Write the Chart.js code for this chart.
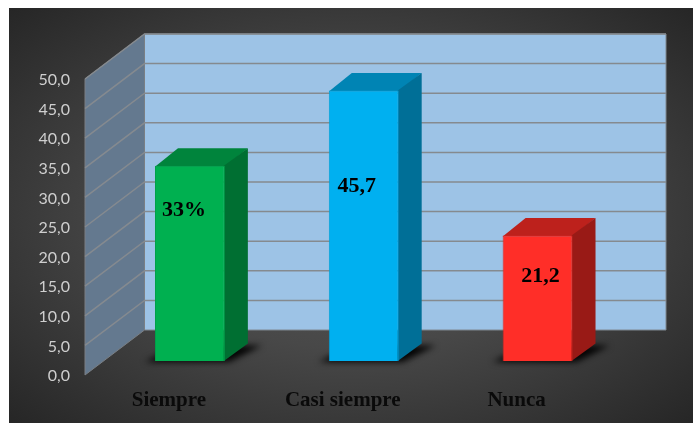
<!DOCTYPE html>
<html>
<head>
<meta charset="utf-8">
<script src="https://cdn.jsdelivr.net/npm/chart.js@4"></script>
<style>
    html, body { margin: 0; padding: 0; background: #fff; width: 693px; height: 423px; overflow: hidden; }
    #wrap {
        position: absolute; left: 9px; top: 8px; width: 684px; height: 415px;
        background: radial-gradient(ellipse at center, #575757 0%, #484848 45%, #262626 100%);
    }
</style>
</head>
<body>
<div id="wrap"><canvas id="barChart" width="684" height="415"></canvas></div>
<script>
// --- Data ---
const categories = ['Siempre', 'Casi siempre', 'Nunca'];
const seriesValues = [33, 45.7, 21.2];
const dataLabels = ['33%', '45,7', '21,2'];
const yTickLabels = ['0,0', '5,0', '10,0', '15,0', '20,0', '25,0', '30,0', '35,0', '40,0', '45,0', '50,0'];

// --- Colours ---
const frontColors = ['#00b050', '#00b0f0', '#ff2e28'];
const edgeColors = ['#00a049', '#00a0da', '#e02a24'];
const topColors = ['#00843c', '#0084b4', '#bd211c'];
const sideColors = ['#006f32', '#006f97', '#991a16'];

// --- 3D look ---
const wallDepth = { x: 59.5, y: -45 };
const barShift = { x: 18, y: -14 };
const barDepth = { x: 23, y: -17.5 };
const labelNudgeX = [-6, -7, 3];
const labelDropY = [45, 96, 41];

function poly(ctx, pts, fill, stroke) {
    ctx.beginPath();
    pts.forEach((p, i) => i ? ctx.lineTo(p[0], p[1]) : ctx.moveTo(p[0], p[1]));
    ctx.closePath();
    ctx.fillStyle = fill;
    ctx.fill();
    if (stroke) {
        ctx.strokeStyle = stroke;
        ctx.lineWidth = 1;
        ctx.stroke();
    }
}

const wallsPlugin = {
    id: 'walls',
    beforeDatasetsDraw(chart) {
        const { ctx, chartArea: a, scales: { y } } = chart;
        const dx = wallDepth.x, dy = wallDepth.y;
        ctx.save();
        // back wall and side wall
        poly(ctx, [[a.left + dx, a.top + dy], [a.right + dx, a.top + dy], [a.right + dx, a.bottom + dy], [a.left + dx, a.bottom + dy]], '#9dc3e6', '#7f8790');
        poly(ctx, [[a.left, a.top], [a.left + dx, a.top + dy], [a.left + dx, a.bottom + dy], [a.left, a.bottom]], '#64798f', '#7a7f84');
        // gridlines, bent round the corner
        ctx.strokeStyle = '#858a8f';
        ctx.lineWidth = 1.5;
        y.ticks.forEach(t => {
            if (t.value === 0) return;
            const py = y.getPixelForValue(t.value);
            ctx.beginPath();
            ctx.moveTo(a.left, py);
            ctx.lineTo(a.left + dx, py + dy);
            ctx.lineTo(a.right + dx, py + dy);
            ctx.stroke();
        });
        // soft shadow on the floor under each bar
        chart.getDatasetMeta(0).data.forEach(bar => {
            const l = bar.x - bar.width / 2 + barShift.x, r = bar.x + bar.width / 2 + barShift.x;
            const b = y.getPixelForValue(0) + barShift.y;
            ctx.save();
            ctx.filter = 'blur(3px)';
            poly(ctx, [[l - 10, b + 1], [r + 4, b + 1], [r + barDepth.x + 14, b + barDepth.y + 2], [l + barDepth.x, b + barDepth.y + 2]], 'rgba(0,0,0,0.95)');
            ctx.restore();
        });
        ctx.restore();
    },
    beforeDatasetDraw(chart) {
        const { ctx } = chart;
        ctx.save();
        ctx.translate(barShift.x, barShift.y);
        // faces first, the library then paints the front on top
        // (both run 1px under the front so no seam shows at its edge)
        chart.getDatasetMeta(0).data.forEach((bar, i) => {
            const l = bar.x - bar.width / 2, r = bar.x + bar.width / 2;
            const t = bar.y, b = bar.base;
            const dx = barDepth.x, dy = barDepth.y;
            poly(ctx, [[l, t + 1], [l + dx, t + dy], [r + dx, t + dy], [r, t + 1]], topColors[i]);
            poly(ctx, [[r - 1, t], [r + dx, t + dy], [r + dx, b + dy], [r - 1, b]], sideColors[i]);
        });
    },
    afterDatasetDraw(chart) {
        chart.ctx.restore();
    },
    afterDatasetsDraw(chart) {
        const { ctx } = chart;
        ctx.save();
        ctx.font = 'bold 22px "Liberation Serif"';
        ctx.fillStyle = '#000';
        ctx.textAlign = 'center';
        ctx.textBaseline = 'middle';
        chart.getDatasetMeta(0).data.forEach((bar, i) => {
            ctx.fillText(dataLabels[i], bar.x + barShift.x + labelNudgeX[i], bar.y + barShift.y + labelDropY[i]);
        });
        ctx.restore();
    }
};

new Chart(document.getElementById('barChart'), {
    type: 'bar',
    data: {
        labels: categories,
        datasets: [{
            data: seriesValues,
            backgroundColor: frontColors,
            borderColor: edgeColors,
            borderWidth: 1,
            barPercentage: 1,
            categoryPercentage: 0.402
        }]
    },
    options: {
        responsive: false,
        animation: false,
        layout: { padding: { top: 71, right: 86.5, left: 0, bottom: 0 } },
        plugins: { legend: { display: false }, tooltip: { enabled: false }, title: { display: false } },
        scales: {
            x: {
                grid: { display: false },
                border: { display: false },
                afterFit: s => { s.height = 48; },
                ticks: {
                    color: '#0a0a0a',
                    font: { family: '"Liberation Serif"', size: 21, weight: 'bold' },
                    labelOffset: -3,
                    padding: 5,
                    maxRotation: 0
                }
            },
            y: {
                min: 0,
                max: 50,
                grid: { display: false },
                border: { display: false },
                afterFit: s => { s.width = 76; },
                ticks: {
                    stepSize: 5,
                    color: '#cfcfcf',
                    font: { family: 'Lato', size: 16 },
                    padding: 7,
                    labelOffset: 1,
                    callback: (v, i) => yTickLabels[i]
                }
            }
        }
    },
    plugins: [wallsPlugin]
});
</script>
</body>
</html>
